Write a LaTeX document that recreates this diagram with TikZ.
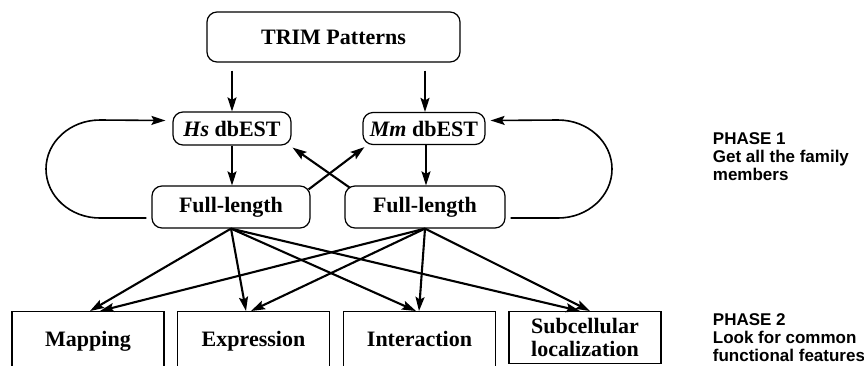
\documentclass[tikz,border=0pt]{standalone}
\usepackage{fontspec}
\setmainfont{Liberation Serif}
\newfontfamily\phasefont{Liberation Sans}
\usetikzlibrary{arrows.meta}
\begin{document}
\begin{tikzpicture}[x=1pt,y=-1pt,
  rbox/.style={draw, line width=1.2pt, rounded corners=10pt, inner sep=0pt,
    font=\fontsize{22}{23}\selectfont\bfseries},
  fbox/.style={draw, line width=1.2pt, inner sep=0pt, anchor=north,
    minimum width=152pt, minimum height=60pt, align=center,
    font=\fontsize{22}{23}\selectfont\bfseries},
  arr/.style={line width=2.1pt, -{Stealth[length=14pt,width=9pt,inset=2.5pt]}},
  looparr/.style={line width=1.6pt, -{Stealth[length=14pt,width=9pt,inset=2.5pt]}},
  phase/.style={anchor=north west, inner sep=0pt, align=left,
    font=\phasefont\fontsize{17}{18}\selectfont\bfseries}
]
\useasboundingbox (0,0) rectangle (864,365);
\clip (0,0) rectangle (864,365);

% top box
\node[rbox, minimum width=253pt, minimum height=50pt] (trim) at (333.5,37) {TRIM Patterns};
% database boxes
\node[rbox, minimum width=118pt, minimum height=33pt] (hs) at (232,128.5) {\textit{Hs} dbEST};
\node[rbox, minimum width=122pt, minimum height=32pt] (mm) at (424,128.5) {\textit{Mm} dbEST};
% full-length boxes
\node[rbox, minimum width=158pt, minimum height=42pt] (fl) at (231,207) {Full-length};
\node[rbox, minimum width=160pt, minimum height=42pt] (fr) at (425,207) {Full-length};
% bottom boxes
\node[fbox, text height=14.5pt, text depth=4.5pt] (map) at (88,311) {Mapping};
\node[fbox, text height=14.5pt, text depth=4.5pt] (exp) at (253.5,311) {Expression};
\node[fbox, text height=14.5pt, text depth=4.5pt] (int) at (419.5,311) {Interaction};
\node[fbox, minimum height=52pt] (sub) at (585,311) {Subcellular\\localization};

% phase labels
\node[phase] (p1) at (712.7,132) {PHASE 1\\Get all the family\\members};
\node[phase] (p2) at (712.7,313) {PHASE 2\\Look for common\\functional features};

% trim to databases
\draw[arr, shorten <=8pt] (trim.south -| hs.north) -- (hs.north);
\draw[arr, shorten <=8pt] ([xshift=1pt]trim.south -| mm.north) -- ([xshift=1pt]mm.north);
% databases to full-length
\draw[arr] (hs.south) -- (hs.south |- fl.north);
\draw[arr] ([xshift=2pt]mm.south) -- ([xshift=2pt]mm.south |- fr.north);
% crossing arrows
\draw[arr] ([shift={(-2,4)}]fl.north east) -- ([shift={(2,2)}]mm.south west);
\draw[arr] ([shift={(5,2)}]fr.north west) -- ([shift={(1,2)}]hs.south east);

% loops
\coordinate (la) at ([shift={(-5,11)}]fl.west);
\coordinate (lb) at ([shift={(-7,-8)}]hs.west);
\draw[looparr] (la) -- (100,218) .. controls (70,218) and (46,196) .. (46,169)
  .. controls (46,142) and (70,120) .. (100,120) -- (lb);
\coordinate (ra) at ([shift={(5,11)}]fr.east);
\coordinate (rb) at ([shift={(5,-8)}]mm.east);
\draw[looparr] (ra) -- (558,218) .. controls (588,218) and (612,196) .. (612,169)
  .. controls (612,142) and (588,120) .. (558,120) -- (rb);

% full-length to features
\draw[arr] (fl.south) -- ([xshift=2pt]map.north);
\draw[arr] (fl.south) -- ([xshift=-7.5pt]exp.north);
\draw[arr] (fl.south) -- ([xshift=-3.5pt]int.north);
\draw[arr] (fl.south) -- ([xshift=-5pt]sub.north);
\draw[arr] (fr.south) -- ([xshift=12pt]map.north);
\draw[arr] (fr.south) -- ([xshift=-2.5pt]exp.north);
\draw[arr] (fr.south) -- ([xshift=-0.5pt]int.north);
\draw[arr] (fr.south) -- ([xshift=5pt]sub.north);
\end{tikzpicture}
\end{document}
